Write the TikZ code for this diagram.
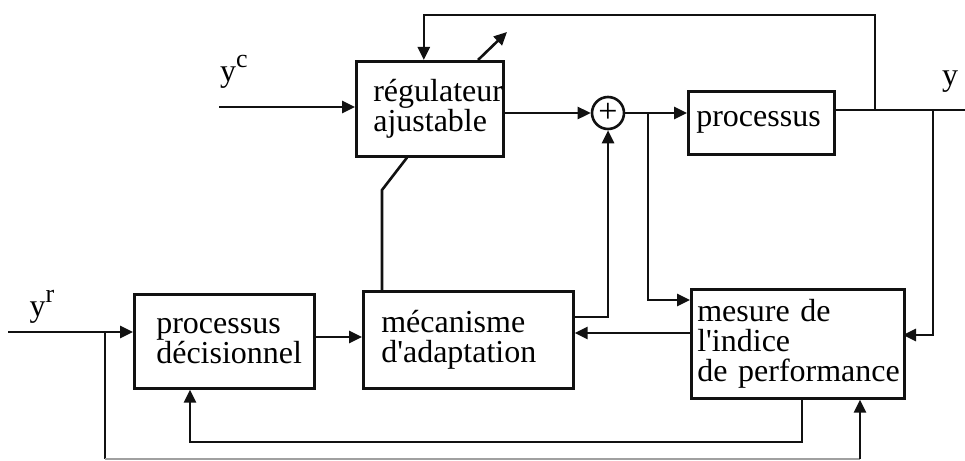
\documentclass[tikz,border=0pt]{standalone}
\usepackage{fontspec}
\setmainfont{Liberation Serif}
\newfontfamily\acserif{Liberation Serif}
\usepackage{tikz}
\usetikzlibrary{
  arrows.meta,
  positioning,
  calc
}
\definecolor{acLine}{HTML}{111111}
\definecolor{acMute}{HTML}{A0A0A0}
\newcommand{\acfont}{\acserif\fontsize{32}{30}\selectfont\hyphenpenalty=10000}
\newcommand{\yexp}[1]{y\raisebox{0.42em}{\acserif\fontsize{26}{26}\selectfont #1}}
\tikzset{
  acbox/.style={
    draw=acLine, line width=2.6pt, rectangle, anchor=north west,
    align=left, inner ysep=0pt, font=\acfont
  },
  sumnode/.style={draw=acLine, line width=2.6pt, circle, minimum size=32pt,
    inner sep=0pt, font=\acserif\fontsize{34}{34}\selectfont},
  sig/.style={line width=2.6pt, acLine, -{Triangle[length=13pt,width=12pt]}},
  wire/.style={line width=2.6pt, acLine},
  faint/.style={line width=1.2pt, acMute},
  tag/.style={font=\acfont, inner sep=0pt}
}
\begin{document}
\begin{tikzpicture}[x=1pt, y=-1pt]
  \useasboundingbox (0,0) rectangle (965,460);
  % blocks
  \node[acbox, inner xsep=17pt, text width=113pt, minimum height=95pt]
    (reg) at (355,60) {\mbox{régulateur}\\ajustable\\[4pt]};
  \node[sumnode] (sum) at (608,113) {+};
  \node[acbox, inner xsep=8pt, text width=130pt, minimum height=63pt]
    (proc) at (687,90) {processus};
  \node[acbox, inner xsep=22pt, text width=136pt, minimum height=94pt]
    (dec) at (133,293) {processus\\décisionnel};
  \node[acbox, inner xsep=18pt, text width=174pt, minimum height=97pt]
    (meca) at (362,290) {mécanisme\\d\textquotesingle adaptation\\[4pt]};
  \node[acbox, inner xsep=6pt, text width=201pt, minimum height=109pt]
    (mes) at (690,288) {mesure de\\l\textquotesingle indice\\\mbox{de performance}};
  % signals
  \node[tag] (yc) at (234,72) {\yexp{c}};
  \node[tag] (yr) at (42,307) {\yexp{r}};
  \node[tag] (y) at (950,82) {y};
  \coordinate (ycin) at (219,107);
  \coordinate (yout) at (965,110);
  \coordinate (fbt) at (875,110);
  \coordinate (fbr) at (933,110);
  \coordinate (fbrin) at (903,335);
  \coordinate (br1) at (648,113);
  \coordinate (br1in) at (690,300);
  \coordinate (adj) at (382,190);
  \coordinate (ms) at (607,317);
  \coordinate (mfb) at (690,333);
  \coordinate (dm) at (313,337);
  \coordinate (yrin) at (8,332);
  \coordinate (yrb) at (105,332);
  \coordinate (bot1) at (105,459);
  \coordinate (bot2) at (860,459);
  \coordinate (mb) at (802,442);
  \coordinate (db) at (190,442);
  % connectors
  \draw[sig] (ycin) -- (ycin -| reg.west);
  \draw[sig] (reg.east |- sum) -- (sum.west);
  \draw[sig] (sum.east) -- (sum -| proc.west);
  \draw[sig] (br1) |- (br1in);
  \draw[wire] (proc.east |- yout) -- (yout);
  \draw[sig] (fbt) |- ($(reg.north)+(-6,-45)$) -- ($(reg.north)+(-6,0)$);
  \draw[sig] (fbr) |- (fbrin);
  \draw[sig] ($(reg.north west)+(123,0)$) -- ++(29,-28);
  \draw[wire] ($(reg.south west)+(52,0)$) -- (adj) -- (adj |- meca.north);
  \draw[sig] (ms -| meca.east) -| (sum.south);
  \draw[sig] (mfb) -- (mfb -| meca.east);
  \draw[sig] (dm) -- (dm -| meca.west);
  \draw[sig] (yrin) -- (yrin -| dec.west);
  \draw[wire] (yrb) -- (bot1);
  \draw[faint] (bot1) -- (bot2);
  \draw[sig] (bot2) -- (bot2 |- mes.south);
  \draw[sig] (mb |- mes.south) -- (mb) -- (db) -- (db |- dec.south);
\end{tikzpicture}
\end{document}
